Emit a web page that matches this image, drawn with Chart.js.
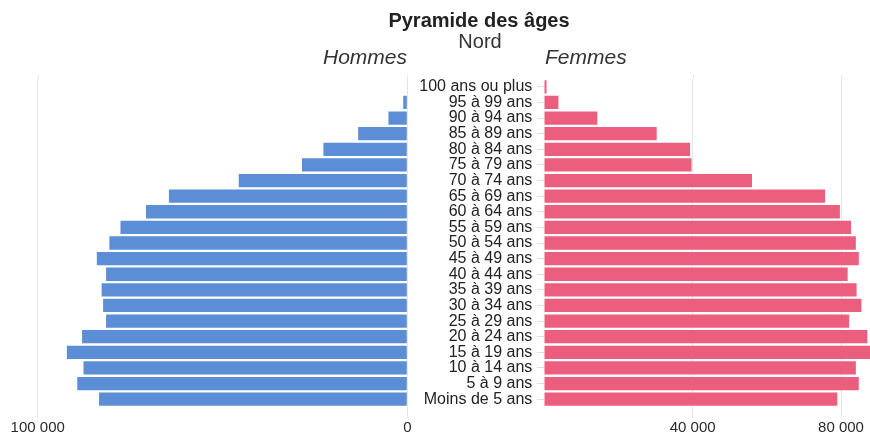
<!DOCTYPE html>
<html>
<head>
<meta charset="utf-8">
<script src="https://cdn.jsdelivr.net/npm/chart.js@4.4.1/dist/chart.umd.min.js"></script>
<style>
  html, body { margin: 0; padding: 0; background: #fff; overflow: hidden; }
  #wrap { position: relative; width: 870px; height: 437px; overflow: hidden; font-family: "Liberation Sans", Arial, sans-serif; }
  .txt { position: absolute; white-space: nowrap; color: #333; line-height: 1.15; }
  #title { left: 0; width: 958px; top: 9px; text-align: center; font-weight: bold; font-size: 20px; color: #222; }
  #sub { left: 0; width: 960px; top: 30px; text-align: center; font-size: 20px; color: #333; }
  #hom { right: 463px; top: 45px; font-style: italic; font-size: 21px; color: #333; }
  #fem { left: 545px; top: 45px; font-style: italic; font-size: 21px; color: #333; }
  #cl { position: absolute; left: 0; top: 0; }
  #cr { position: absolute; left: 400px; top: 0; }
</style>
</head>
<body>
<div id="wrap">
  <canvas id="cl" width="420" height="437"></canvas>
  <canvas id="cr" width="480" height="437"></canvas>
  <div class="txt" id="title">Pyramide des âges</div>
  <div class="txt" id="sub">Nord</div>
  <div class="txt" id="hom">Hommes</div>
  <div class="txt" id="fem">Femmes</div>
</div>
<script>
const categories = ["100 ans ou plus","95 à 99 ans","90 à 94 ans","85 à 89 ans","80 à 84 ans","75 à 79 ans","70 à 74 ans","65 à 69 ans","60 à 64 ans","55 à 59 ans","50 à 54 ans","45 à 49 ans","40 à 44 ans","35 à 39 ans","30 à 34 ans","25 à 29 ans","20 à 24 ans","15 à 19 ans","10 à 14 ans","5 à 9 ans","Moins de 5 ans"];
const hommes = [150, 1100, 5100, 13300, 22700, 28500, 45600, 64500, 70700, 77600, 80600, 84000, 81500, 82700, 82300, 81500, 88000, 92100, 87600, 89300, 83400];
const femmes = [600, 3800, 14300, 30300, 39300, 39700, 56000, 75700, 79700, 82700, 84000, 84800, 81800, 84200, 85500, 82200, 87100, 87900, 84000, 84800, 79000];
const leftTicks = [0, 100000];
const rightTicks = [40000, 80000];

const FONT = '"Liberation Sans", Arial, sans-serif';
const fmt = v => String(Math.round(v)).replace(/\B(?=(\d{3})+(?!\d))/g, ' ');
Chart.defaults.animation = false;
Chart.defaults.responsive = false;
Chart.defaults.font.family = FONT;

// extends the vertical grid lines a few pixels above the plot area
const gridTop = {
  id: 'gridTop',
  beforeDatasetsDraw(chart) {
    const x = chart.scales.x, ctx = chart.ctx, top = chart.chartArea.top;
    ctx.save();
    ctx.strokeStyle = '#e6e6e6';
    ctx.lineWidth = 1;
    x.ticks.forEach(t => {
      const px = Math.round(x.getPixelForValue(t.value)) + 0.5;
      ctx.beginPath(); ctx.moveTo(px, top - 4); ctx.lineTo(px, top); ctx.stroke();
    });
    ctx.restore();
  }
};

new Chart(document.getElementById('cl'), {
  type: 'bar',
  data: { labels: categories, datasets: [{ label: 'Hommes', data: hommes, backgroundColor: '#5B8ED6', barPercentage: 0.85, categoryPercentage: 1.0 }] },
  plugins: [gridTop],
  options: {
    indexAxis: 'y',
    layout: { padding: { left: 37.7, right: 12.7, top: 79, bottom: 0 } },
    plugins: { legend: { display: false }, tooltip: { enabled: false } },
    scales: {
      x: {
        type: 'linear', min: 0, max: 100000, reverse: true,
        afterBuildTicks: s => { s.ticks = leftTicks.map(v => ({ value: v })); },
        afterFit: s => { s.height = 30; s.paddingLeft = 0; s.paddingRight = 0; },
        grid: { color: '#e6e6e6', lineWidth: 1, tickLength: 11, tickColor: '#e6e6e6' },
        border: { display: false },
        ticks: { padding: 1, color: '#2a2a2a', font: { size: 15 }, callback: v => fmt(v), maxRotation: 0 }
      },
      y: { type: 'category', offset: true, display: false }
    }
  }
});

new Chart(document.getElementById('cr'), {
  type: 'bar',
  data: { labels: categories, datasets: [{ label: 'Femmes', data: femmes, backgroundColor: '#EC5E7E', barPercentage: 0.85, categoryPercentage: 1.0 }] },
  plugins: [gridTop],
  options: {
    indexAxis: 'y',
    layout: { padding: { left: 0, right: 1.9, top: 79, bottom: 0 } },
    plugins: { legend: { display: false }, tooltip: { enabled: false } },
    scales: {
      x: {
        type: 'linear', min: 0, max: 90000,
        afterBuildTicks: s => { s.ticks = rightTicks.map(v => ({ value: v })); },
        afterFit: s => { s.height = 30; s.paddingLeft = 0; s.paddingRight = 0; },
        grid: { color: '#e6e6e6', lineWidth: 1, tickLength: 11, tickColor: '#e6e6e6' },
        border: { display: false },
        ticks: { padding: 1, color: '#2a2a2a', font: { size: 15 }, callback: v => fmt(v), maxRotation: 0 }
      },
      y: {
        type: 'category', offset: true,
        afterFit: s => { s.width = 144.3; },
        grid: { offset: false, drawOnChartArea: false, drawTicks: true, tickLength: 7, tickColor: '#dddddd' },
        border: { display: false },
        ticks: { padding: 5, color: '#222', font: { size: 16 }, autoSkip: false }
      }
    }
  }
});
</script>
</body>
</html>
